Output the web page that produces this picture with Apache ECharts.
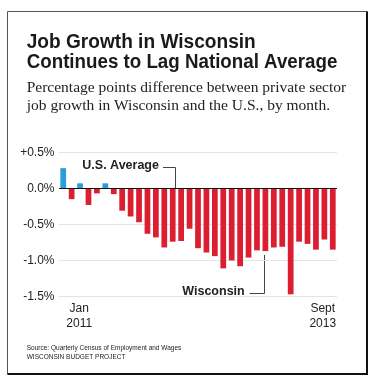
<!DOCTYPE html>
<html>
<head>
<meta charset="utf-8">
<script src="https://cdn.jsdelivr.net/npm/echarts@6/dist/echarts.min.js"></script>
<style>
html,body{margin:0;padding:0;background:#fff;}
#chart{width:378px;height:382px;}
</style>
</head>
<body>
<div id="chart"></div>
<script>
// Months Jan 2011 .. Sept 2013
const monthNames = ['Jan','Feb','Mar','Apr','May','Jun','Jul','Aug','Sep','Oct','Nov','Dec'];
const months = [];
for (let y = 2011; y <= 2013; y++) {
  for (let m = 0; m < 12; m++) {
    if (y === 2013 && m > 8) break;
    months.push(monthNames[m] + ' ' + y);
  }
}
// Percentage-point difference, Wisconsin minus U.S.
const values = [0.28, -0.15, 0.07, -0.23, -0.07, 0.07, -0.08, -0.31, -0.39, -0.47, -0.63, -0.68,
                -0.82, -0.74, -0.73, -0.56, -0.83, -0.89, -0.94, -1.11, -1.00, -1.08, -0.96, -0.86,
                -0.87, -0.82, -0.81, -1.47, -0.74, -0.77, -0.85, -0.71, -0.85];
// Tick labels
const xTickIndex = [0, 32];
const xTickMonth = ['Jan', 'Sept'];
const xTickYear = ['2011', '2013'];
const yTickValues = [0.5, 0, -0.5, -1.0, -1.5];
const yTickLabels = ['+0.5%', '0.0%', '-0.5%', '-1.0%', '-1.5%'];

const RED = '#dc1e30';
const BLUE = '#2a9ed8';
const SANS = '"Liberation Sans", Arial, sans-serif';
const SERIF = '"Liberation Serif", "Times New Roman", serif';

const chart = echarts.init(document.getElementById('chart'), null, {renderer: 'canvas'});

const option = {
  backgroundColor: '#ffffff',
  animation: false,
  grid: {left: 59, right: 41, top: 152.3, bottom: 85.5, containLabel: false},
  xAxis: {
    type: 'category',
    data: months,
    axisLine: {show: false},
    axisTick: {show: false},
    splitLine: {show: false},
    axisLabel: {
      interval: 0,
      margin: 5,
      color: '#222',
      fontFamily: SANS,
      fontSize: 12,
      lineHeight: 15,
      formatter: function (v, i) {
        const k = xTickIndex.indexOf(i);
        if (k < 0) return '';
        const st = k === 0 ? 'a' : 'b';
        return '{' + st + '|' + xTickMonth[k] + '}\n{' + st + '|' + xTickYear[k] + '}';
      },
      rich: {
        a: {fontFamily: SANS, fontSize: 12, lineHeight: 15, color: '#222', padding: [0, 0, 0, 32]},
        b: {fontFamily: SANS, fontSize: 12, lineHeight: 15, color: '#222', padding: [0, 20, 0, 0]}
      }
    }
  },
  yAxis: {
    type: 'value',
    min: -1.5,
    max: 0.5,
    interval: 0.5,
    axisLine: {show: false},
    axisTick: {show: false},
    splitLine: {show: true, lineStyle: {color: '#e4e4e4', width: 1}},
    axisLabel: {
      margin: 4.5,
      color: '#222',
      fontFamily: SANS,
      fontSize: 12,
      formatter: function (v) {
        for (let i = 0; i < yTickValues.length; i++) {
          if (Math.abs(yTickValues[i] - v) < 1e-6) return yTickLabels[i];
        }
        return '';
      }
    }
  },
  series: [{
    type: 'bar',
    data: values,
    barCategoryGap: '32%',
    itemStyle: {
      color: function (p) { return p.value >= 0 ? BLUE : RED; }
    },
    markLine: {
      silent: true,
      symbol: 'none',
      label: {show: false},
      lineStyle: {color: '#111', width: 1, type: 'solid'},
      data: [{yAxis: 0}]
    }
  }],
  graphic: [
    // frame
    {type: 'rect', shape: {x: 7.5, y: 11.5, width: 359.5, height: 362.5},
     style: {fill: 'none', stroke: '#555', lineWidth: 1}, z: 0},
    {type: 'line', shape: {x1: 367, y1: 11.5, x2: 367, y2: 375}, style: {stroke: '#111', lineWidth: 2}},
    {type: 'line', shape: {x1: 7.5, y1: 374, x2: 368, y2: 374}, style: {stroke: '#111', lineWidth: 2}},
    // title
    {type: 'text', x: 26.7, y: 42.5, scaleX: 0.955,
     style: {text: 'Job Growth in Wisconsin', x: 0, y: 0, fill: '#1a1a1a',
             font: 'bold 20px ' + SANS, textAlign: 'left', textVerticalAlign: 'middle'}},
    {type: 'text', x: 26.7, y: 62.7, scaleX: 0.937,
     style: {text: 'Continues to Lag National Average', x: 0, y: 0, fill: '#1a1a1a',
             font: 'bold 20px ' + SANS, textAlign: 'left', textVerticalAlign: 'middle'}},
    // subtitle
    {type: 'text', x: 26.7, y: 87.6,
     style: {text: 'Percentage points difference between private sector', x: 0, y: 0, fill: '#222',
             font: '15.5px ' + SERIF, textAlign: 'left', textVerticalAlign: 'middle'}},
    {type: 'text', x: 26.7, y: 105.7,
     style: {text: 'job growth in Wisconsin and the U.S., by month.', x: 0, y: 0, fill: '#222',
             font: '15.5px ' + SERIF, textAlign: 'left', textVerticalAlign: 'middle'}},
    // annotations
    {type: 'text', x: 82.3, y: 165.5,
     style: {text: 'U.S. Average', x: 0, y: 0, fill: '#222',
             font: 'bold 12.5px ' + SANS, textAlign: 'left', textVerticalAlign: 'middle'}},
    {type: 'polyline', shape: {points: [[163, 167.5], [175.5, 167.5], [175.5, 188]]},
     style: {stroke: '#444', lineWidth: 1, fill: 'none'}},
    {type: 'text', x: 182.3, y: 291.2,
     style: {text: 'Wisconsin', x: 0, y: 0, fill: '#222',
             font: 'bold 12.5px ' + SANS, textAlign: 'left', textVerticalAlign: 'middle'}},
    {type: 'polyline', shape: {points: [[249.5, 293.5], [264.5, 293.5], [264.5, 255]]},
     style: {stroke: '#444', lineWidth: 1, fill: 'none'}},
    // source
    {type: 'text', x: 26.7, y: 348, scaleX: 0.93,
     style: {text: 'Source: Quarterly Census of Employment and Wages', x: 0, y: 0, fill: '#222',
             font: '7px ' + SANS, textAlign: 'left', textVerticalAlign: 'middle'}},
    {type: 'text', x: 26.7, y: 357, scaleX: 0.93,
     style: {text: 'WISCONSIN BUDGET PROJECT', x: 0, y: 0, fill: '#222',
             font: '7px ' + SANS, textAlign: 'left', textVerticalAlign: 'middle'}}
  ]
};
chart.setOption(option);
</script>
</body>
</html>
